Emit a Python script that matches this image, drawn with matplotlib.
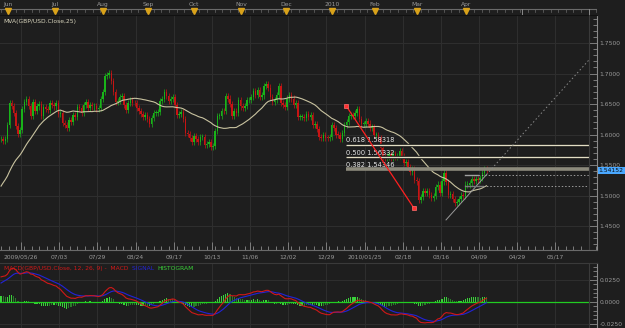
import matplotlib.pyplot as plt
import numpy as np

# closes before the visible window (2009-04-01 .. 2009-05-25), feed MVA / MACD only
history = [
    1.4470, 1.4810, 1.4760, 1.4740, 1.4640, 1.4620, 1.4720, 1.4790, 1.4830, 1.4740, 1.4960,
    1.4880, 1.4720, 1.4570, 1.4560, 1.4520, 1.4660, 1.4700, 1.4620, 1.4720, 1.4790, 1.4790,
    1.4960, 1.5010, 1.5100, 1.5050, 1.5090, 1.5180, 1.5150, 1.5230, 1.5140, 1.5180, 1.5110,
    1.5340, 1.5510, 1.5640, 1.5650, 1.5880, 1.5920,
]

# visible daily closes, first bar 2009-05-26 (bar -4); bar 0 = 2009-06-01
closes = [
    # may
    1.5920, 1.5890, 1.5930, 1.6160,
    # jun
    1.6520, 1.6470, 1.6360, 1.6140, 1.6010, 1.6080, 1.6420, 1.6530, 1.6580, 1.6470, 1.6310,
    1.6530, 1.6380, 1.6460, 1.6500, 1.6310, 1.6450, 1.6420, 1.6400, 1.6510, 1.6480, 1.6460,
    # jul
    1.6520, 1.6340, 1.6360, 1.6190, 1.6160, 1.6100, 1.6230, 1.6210, 1.6320, 1.6290, 1.6450,
    1.6430, 1.6350, 1.6490, 1.6530, 1.6430, 1.6490, 1.6460, 1.6460, 1.6420, 1.6430, 1.6580,
    1.6700,
    # aug
    1.6960, 1.6970, 1.7010, 1.6880, 1.6700, 1.6530, 1.6550, 1.6620, 1.6630, 1.6490, 1.6400,
    1.6510, 1.6570, 1.6520, 1.6510, 1.6440, 1.6380, 1.6330, 1.6280, 1.6320, 1.6260,
    # sep
    1.6180, 1.6270, 1.6350, 1.6360, 1.6370, 1.6550, 1.6580, 1.6690, 1.6630, 1.6550, 1.6580,
    1.6610, 1.6480, 1.6320, 1.6330, 1.6370, 1.6250, 1.6020, 1.6010, 1.5950, 1.5880, 1.5980,
    # oct
    1.5930, 1.5880, 1.5960, 1.5960, 1.5830, 1.5840, 1.5870, 1.5800, 1.5810, 1.6060, 1.6300,
    1.6310, 1.6390, 1.6380, 1.6630, 1.6590, 1.6500, 1.6300, 1.6380, 1.6350, 1.6560, 1.6460,
    # nov
    1.6430, 1.6470, 1.6560, 1.6570, 1.6620, 1.6710, 1.6650, 1.6730, 1.6620, 1.6640, 1.6790,
    1.6820, 1.6770, 1.6620, 1.6530, 1.6560, 1.6640, 1.6790, 1.6510, 1.6480, 1.6450,
    # dec
    1.6590, 1.6640, 1.6590, 1.6480, 1.6510, 1.6290, 1.6290, 1.6290, 1.6270, 1.6330, 1.6280,
    1.6320, 1.6150, 1.6170, 1.6090, 1.5960, 1.5950, 1.5990, 1.5950, 1.5940, 1.5960, 1.6150,
    # jan
    1.6110, 1.6000, 1.5990, 1.5920, 1.6020, 1.6150, 1.6200, 1.6300, 1.6320, 1.6300, 1.6350,
    1.6420, 1.6250, 1.6170, 1.6170, 1.6220, 1.6180, 1.6110, 1.6130, 1.5990,
    # feb
    1.5990, 1.5950, 1.5780, 1.5640, 1.5620, 1.5640, 1.5680, 1.5620, 1.5680, 1.5640, 1.5650,
    1.5730, 1.5650, 1.5530, 1.5550, 1.5470, 1.5390, 1.5430, 1.5260, 1.5230,
    # mar
    1.4930, 1.4970, 1.5080, 1.5040, 1.5080, 1.5010, 1.4960, 1.4990, 1.5140, 1.5180, 1.5040,
    1.5230, 1.5370, 1.5220, 1.5010, 1.5030, 1.4940, 1.4880, 1.4890, 1.4940, 1.5000, 1.4990,
    1.5180,
    # apr
    1.5180, 1.5210, 1.5270, 1.5240, 1.5270, 1.5260, 1.5290, 1.5370, 1.5440, 1.54152,
]
first_bar = -4

month_names = ["Jun", "Jul", "Aug", "Sep", "Oct", "Nov", "Dec", "2010", "Feb", "Mar", "Apr"]
month_marks = [-0.7, 21.5, 44.1, 65.3, 87.0, 109.2, 130.4, 152.1, 172.4, 192.2, 215.3]
date_labels = ["2009/05/26", "07/03", "07/29", "08/24", "09/17", "10/13", "11/06", "12/02",
               "12/29", "2010/01/25", "02/18", "03/16", "04/09", "04/29", "05/17"]

# fibonacci retracement drawn on the chart (bar, price)
fib_from = (158.7, 1.64747)
fib_to = (190.8, 1.47917)
fib_ratios = [0.618, 0.500, 0.382]
last_price = 1.54152

# user drawn trend line and channel (bar, price)
trend_from = (205.9, 1.4600)
trend_to = (273.3, 1.7221)
trend_solid_end = 225.0
channel_top = (214.8, 1.5336)
channel_bottom = (214.8, 1.5156)
channel_top_end = 221.0
channel_bottom_end = 223.5

BG = "#1e1e1e"
GRID = "#2e2e2e"
TXT = "#9a9a9a"
FS = 4.3

full = np.array(history + closes)
n_hist = len(history)
bars = np.arange(len(closes)) + first_bar
opens = full[n_hist - 1:-1]
close = full[n_hist:]

# 25 bar moving average
mva = np.convolve(full, np.ones(25) / 25, mode="valid")[n_hist - 24:]


def ema(values, span):
    out = np.empty_like(values)
    k = 2 / (span + 1)
    out[0] = values[0]
    for i in range(1, len(values)):
        out[i] = values[i] * k + out[i - 1] * (1 - k)
    return out


macd_full = ema(full, 12) - ema(full, 26)
signal_full = ema(macd_full, 9)
macd = macd_full[n_hist:]
signal = signal_full[n_hist:]
hist = macd - signal

# pixel layout
W, H = 625, 328


def px2bar(px):
    return (px - 9.5) / 2.12


x_left, x_right = px2bar(0), px2bar(597)
border = px2bar(589)

fig = plt.figure(figsize=(6.25, 3.28), dpi=100, facecolor=BG)
ax = fig.add_axes([0, 1 - 250 / H, 597 / W, 235 / H], facecolor=BG)
top = fig.add_axes([0, 1 - 15 / H, 597 / W, 15 / H], facecolor=BG)
mx = fig.add_axes([0, 0, 597 / W, 65 / H], facecolor=BG)

date_ticks = np.arange(len(date_labels)) * 18 + 5.5
minor_ticks = np.arange(-4, 277, 3.6)

# ---- main price panel
ax.set_xlim(x_left, x_right)
ax.set_ylim(1.4107, 1.7959)
for t in date_ticks:
    ax.axvline(t, color=GRID, lw=0.8, zorder=0)
for p in np.arange(1.45, 1.76, 0.05):
    ax.axhline(p, color=GRID, lw=0.8, zorder=0)

up = close >= opens
colors = np.where(up, "#19b419", "#c81414")
lo = np.minimum(opens, close)
hi = np.maximum(opens, close)
ax.vlines(bars, lo - 0.005, hi + 0.005, colors=colors, lw=0.5, zorder=2)
ax.bar(bars, np.maximum(hi - lo, 0.0012), bottom=lo, width=0.7, color=colors, zorder=3)
ax.plot(bars, mva, color="#c9c3a0", lw=0.8, zorder=4)

# fibonacci levels
rng = fib_from[1] - fib_to[1]
for r in fib_ratios:
    level = fib_to[1] + r * rng
    if r == 0.382:
        ax.plot([fib_from[0], border], [level, level], color="#8c8a7c", lw=2.6, zorder=5,
                solid_capstyle="butt")
    else:
        ax.plot([fib_from[0], border], [level, level], color="#101010", lw=2.4, zorder=5,
                solid_capstyle="butt")
        ax.plot([fib_from[0], border], [level, level], color="#e2ddc4", lw=1.0, zorder=6,
                solid_capstyle="butt")
    ax.text(fib_from[0], level + 0.0022, f"{r:.3f} {level:.5f}", color="#e6e6e6",
            fontsize=4.8, va="bottom", ha="left", zorder=7)
ax.plot([fib_from[0], fib_to[0]], [fib_from[1], fib_to[1]], color="#ff2020", lw=0.9,
        marker="s", ms=3.2, mfc="#ff3030", mec="#ff7070", mew=0.5, zorder=8)

# trend line: solid part then dotted extension
slope = (trend_to[1] - trend_from[1]) / (trend_to[0] - trend_from[0])
mid_price = trend_from[1] + slope * (trend_solid_end - trend_from[0])
ax.plot([trend_from[0], trend_solid_end], [trend_from[1], mid_price], color="#9a9a9a",
        lw=0.7, zorder=6)
ax.plot([trend_solid_end, trend_to[0]], [mid_price, trend_to[1]], color="#8a8a8a", lw=0.7,
        ls=(0, (1.5, 2.5)), zorder=6)
for (b0, lvl), b1, col in ((channel_top, channel_top_end, "#a0a0a0"),
                           (channel_bottom, channel_bottom_end, "#7a7a7a")):
    ax.plot([b0, b1], [lvl, lvl], color=col, lw=1.0, zorder=6)
    ax.plot([b1, border], [lvl, lvl], color="#9a9a9a", lw=0.7, ls=(0, (1.5, 2)), zorder=6)

ax.axvline(border, color="#3a3a3a", lw=0.8, zorder=9)
ax.text(0.006, 0.985, "MVA(GBP/USD.Close,25)", transform=ax.transAxes, color="#d8d4bc",
        fontsize=FS, va="top", ha="left")

ax.yaxis.tick_right()
ax.set_yticks(np.arange(1.45, 1.76, 0.05))
ax.set_yticklabels([f"{v:.4f}" for v in np.arange(1.45, 1.76, 0.05)])
ax.set_yticks(np.arange(1.42, 1.79, 0.01), minor=True)
ax.tick_params(axis="y", which="both", direction="in", colors="#8a8a8a", labelcolor=TXT,
               labelsize=FS, pad=2, width=0.6)
ax.tick_params(axis="y", which="major", length=6)
ax.tick_params(axis="y", which="minor", length=3)
ax.set_xticks(date_ticks)
ax.set_xticklabels(date_labels)
ax.set_xticks(minor_ticks, minor=True)
ax.tick_params(axis="x", which="both", direction="in", colors="#8a8a8a", labelcolor=TXT,
               labelsize=FS, pad=3, width=0.6)
ax.tick_params(axis="x", which="major", length=6)
ax.tick_params(axis="x", which="minor", length=3)
ax.spines["left"].set_visible(False)
ax.spines["right"].set_color("#8a8a8a")
ax.spines["bottom"].set_color("#6a6a6a")
ax.spines["top"].set_color("#111111")

# price tag
ax.annotate(f"{last_price:.5f}", xy=(1.0, last_price), xycoords=("axes fraction", "data"),
            xytext=(1.2, 0), textcoords="offset points", fontsize=FS, color="#0a0a0a",
            va="center", ha="left", annotation_clip=False,
            bbox=dict(boxstyle="square,pad=0.15", fc="#4aa8ff", ec="none"))

# ---- top month band
top.set_xlim(x_left, x_right)
top.set_ylim(15, 0)
top.axis("off")
top.axhline(9, color="#6a6a6a", lw=0.8)
for t in minor_ticks:
    top.plot([t, t], [9, 11.5], color="#6a6a6a", lw=0.5)
for t in (px2bar(522), border):
    top.plot([t, t], [9, 15], color="#8a8a8a", lw=0.7)
for name, m in zip(month_names, month_marks):
    top.plot(m, 11.3, marker="v", ms=4.2, color="#d9a21a", mec="#d9a21a")
    top.text(m, 4.3, name, color=TXT, fontsize=FS, ha="center", va="center")

# ---- MACD panel
mx.set_xlim(x_left, x_right)
mx.set_ylim(-0.0295, 0.0443)
for t in date_ticks:
    mx.axvline(t, color=GRID, lw=0.8, zorder=0)
for p in (-0.025, 0.025):
    mx.axhline(p, color=GRID, lw=0.8, zorder=0)
rising = np.r_[True, np.diff(hist) >= 0]
hcol = np.where(rising == (hist >= 0), "#3ad23a", "#2a7a2a")
mx.bar(bars, hist, width=0.55, color=hcol, zorder=2)
mx.plot([x_left, border], [0, 0], color="#22cc22", lw=0.9, zorder=3)
mx.plot(bars, signal, color="#2323d8", lw=0.8, zorder=4)
mx.plot(bars, macd, color="#d01818", lw=0.8, zorder=5)
mx.axvline(border, color="#3a3a3a", lw=0.8, zorder=9)

xx = 0.006
for txt, col in (("MACD(GBP/USD.Close, 12, 26, 9) -  MACD  ", "#d01818"),
                 ("SIGNAL  ", "#2323d8"), ("HISTOGRAM", "#3ad23a")):
    t = mx.text(xx, 0.92, txt, transform=mx.transAxes, color=col, fontsize=FS, va="center",
                ha="left")
    fig.canvas.draw()
    bb = t.get_window_extent().transformed(mx.transAxes.inverted())
    xx = bb.x1

mx.yaxis.tick_right()
mx.set_yticks([-0.025, 0.0, 0.025])
mx.set_yticklabels(["-0.0250", "0.0000", "0.0250"])
mx.set_yticks(np.arange(-0.03, 0.045, 0.005), minor=True)
mx.tick_params(axis="y", which="both", direction="in", colors="#8a8a8a", labelcolor=TXT,
               labelsize=FS, pad=2, width=0.6)
mx.tick_params(axis="y", which="major", length=6)
mx.tick_params(axis="y", which="minor", length=3)
mx.set_xticks([])
for s in ("left", "bottom"):
    mx.spines[s].set_visible(False)
mx.spines["right"].set_color("#8a8a8a")
mx.spines["top"].set_color("#3a3a3a")

fig.savefig("out.png", dpi=100, facecolor=BG)
